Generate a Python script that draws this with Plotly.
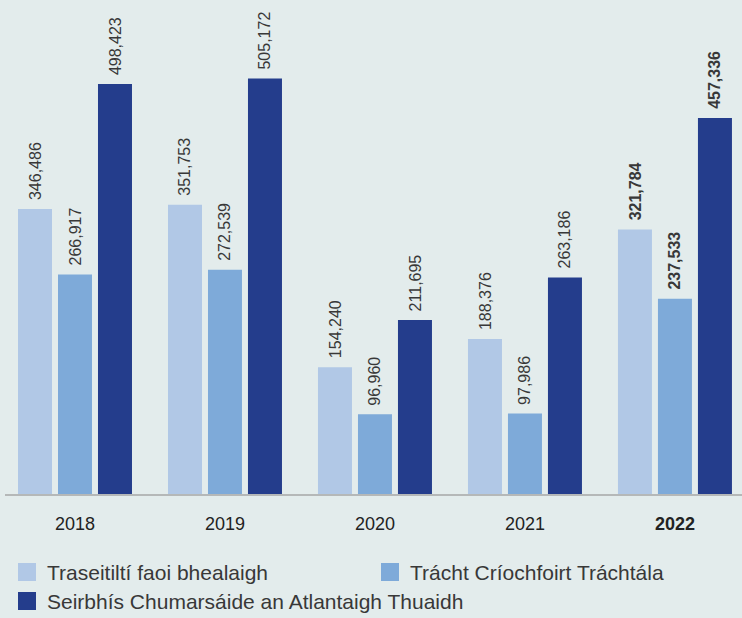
import plotly.graph_objects as go

# ---- data ----
years = ["2018", "2019", "2020", "2021", "2022"]
year_labels = ["2018", "2019", "2020", "2021", "<b>2022</b>"]
series_names = [
    "Traseitiltí faoi bhealaigh",
    "Trácht Críochfoirt Tráchtála",
    "Seirbhís Chumarsáide an Atlantaigh Thuaidh",
]
transit = [346486, 351753, 154240, 188376, 321784]
terminal = [266917, 272539, 96960, 97986, 237533]
north_atlantic = [498423, 505172, 211695, 263186, 457336]
series_values = [transit, terminal, north_atlantic]
colors = ["#b1c8e6", "#7eaad9", "#243d8c"]
bold_year = "2022"

# ---- style ----
W, H = 742, 618
ML, MR, MT, MB = 5, 0, 10, 124
BG = "#e3ecec"
FONT = "Liberation Sans, Arial, sans-serif"
TXT = "#383838"

fig = go.Figure()
for name, vals, col in zip(series_names, series_values, colors):
    fig.add_trace(go.Bar(x=years, y=vals, name=name,
                         marker=dict(color=col, line=dict(width=0)),
                         showlegend=False))

# value labels (category index positions on the x axis)
annotations = []
n = len(series_values)
for i, vals in enumerate(series_values):
    for j, (yr, v) in enumerate(zip(years, vals)):
        t = f"{v:,}"
        if yr == bold_year:
            t = f"<b>{t}</b>"
        annotations.append(dict(
            x=j, y=v, xref="x", yref="y", text=t, showarrow=False,
            textangle=-90, xanchor="center", yanchor="bottom",
            xshift=(i - (n - 1) / 2) * 40, yshift=7,
            font=dict(family=FONT, size=16, color=TXT),
        ))

# manual legend (pixel helpers -> paper coords)
pw = W - ML - MR
ph = H - MT - MB
def px(x):
    return (x - ML) / pw
def py(y):
    return (H - MB - y) / ph

legend_pos = [(18, 563), (381, 563), (18, 592)]
shapes = []
for (lx, ly), name, col in zip(legend_pos, series_names, colors):
    shapes.append(dict(type="rect", xref="paper", yref="paper",
                       x0=px(lx), x1=px(lx + 18), y0=py(ly + 18), y1=py(ly),
                       fillcolor=col, line=dict(width=0)))
    annotations.append(dict(x=px(lx + 27), y=py(ly + 9), xref="paper", yref="paper",
                            text=name, showarrow=False, xanchor="left", yanchor="middle",
                            font=dict(family=FONT, size=21, color=TXT)))

fig.update_layout(
    width=W, height=H,
    margin=dict(l=ML, r=MR, t=MT, b=MB),
    paper_bgcolor=BG, plot_bgcolor=BG,
    barmode="group", bargap=0.2, bargroupgap=0.15,
    annotations=annotations, shapes=shapes,
    xaxis=dict(type="category", range=[-70 / 150, 4.447], showline=True,
               linecolor="#b5b8b8", linewidth=2, showgrid=False, zeroline=False,
               tickvals=years, ticktext=year_labels, ticks="",
               ticklabelstandoff=12,
               tickfont=dict(family=FONT, size=18, color="#222222")),
    yaxis=dict(range=[0, 588544], visible=False, showgrid=False, zeroline=False),
    showlegend=False,
)

fig.write_html("out.html", config={"displayModeBar": False},
               post_script="document.body.style.margin='0px';")
